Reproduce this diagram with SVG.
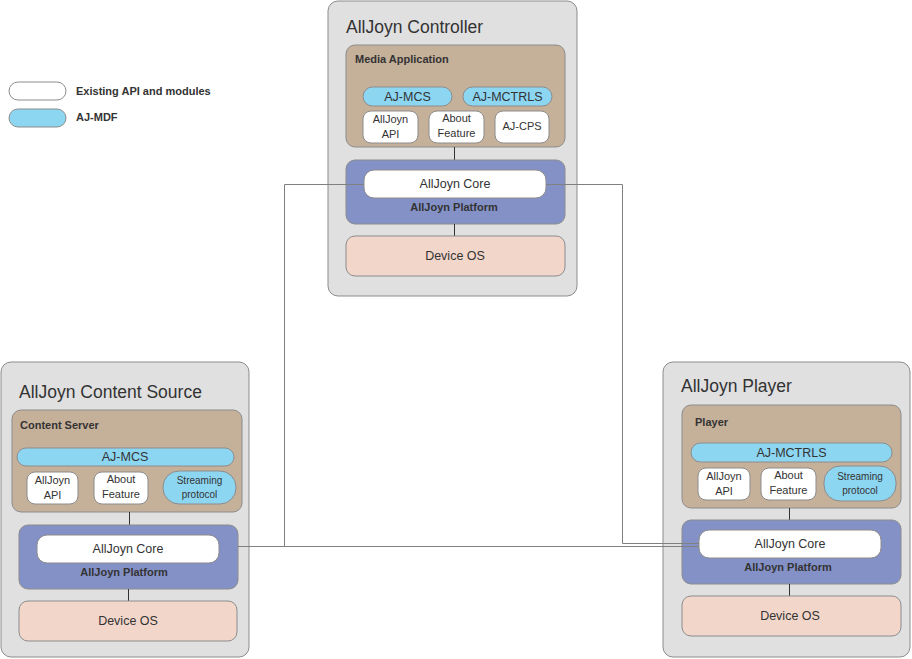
<svg xmlns="http://www.w3.org/2000/svg" width="912" height="659" viewBox="0 0 912 659">
<style>
text{font-family:"Liberation Sans",Arial,sans-serif;fill:#333}
.cont{fill:#e0e0e0;stroke:#8c8c8c;stroke-width:1}
.app{fill:#c5b09a;stroke:#8c8c8c;stroke-width:1}
.plat{fill:#8491c7;stroke:#8c8c8c;stroke-width:1}
.os{fill:#f2d6ca;stroke:#8c8c8c;stroke-width:1}
.wh{fill:#fff;stroke:#8c8c8c;stroke-width:1}
.bl{fill:#8dd6f2;stroke:#8c8c8c;stroke-width:1}
.title{font-size:17.5px}
.lbl{font-size:11px;font-weight:bold}
.t{font-size:12.5px;text-anchor:middle}
.s{font-size:11px;text-anchor:middle}
.pl{font-size:11px;font-weight:bold;text-anchor:middle}
.link{fill:none;stroke:#808080;stroke-width:1}
.v{stroke:#333;stroke-width:1}
</style>
<g id="legend">
<rect class="wh" x="9" y="82" width="57" height="18" rx="9"/>
<text class="lbl" x="76" y="95">Existing API and modules</text>
<rect class="bl" x="9" y="109" width="57" height="18" rx="9"/>
<text class="lbl" x="76" y="121">AJ-MDF</text>
</g>
<g id="controller">
<rect class="cont" x="328" y="1" width="249" height="295" rx="10"/>
<text class="title" x="346" y="33">AllJoyn Controller</text>
<rect class="app" x="346" y="45" width="219" height="102" rx="9"/>
<text class="lbl" x="355" y="63">Media Application</text>
<rect class="bl" x="363" y="87" width="89" height="19" rx="9.5"/>
<text class="t" x="407.5" y="101">AJ-MCS</text>
<rect class="bl" x="463" y="87" width="89" height="19" rx="9.5"/>
<text class="t" x="507.5" y="101">AJ-MCTRLS</text>
<rect class="wh" x="363" y="111" width="55" height="32" rx="8"/>
<text class="s" x="390.5" y="123">AllJoyn</text>
<text class="s" x="390.5" y="138">API</text>
<rect class="wh" x="429" y="111" width="55" height="32" rx="8"/>
<text class="s" x="456.5" y="122">About</text>
<text class="s" x="456.5" y="137">Feature</text>
<rect class="wh" x="495" y="111" width="54" height="32" rx="8"/>
<text class="s" x="522" y="130">AJ-CPS</text>
<line class="v" x1="454.5" y1="147" x2="454.5" y2="160"/>
<rect class="plat" x="346" y="160" width="219" height="64" rx="9"/>
<rect class="wh" x="364" y="170" width="182" height="28" rx="10"/>
<text class="t" x="455" y="188">AllJoyn Core</text>
<text class="pl" x="454" y="211">AllJoyn Platform</text>
<line class="v" x1="454.5" y1="224" x2="454.5" y2="236"/>
<rect class="os" x="346" y="236" width="219" height="40" rx="9"/>
<text class="t" x="455" y="260">Device OS</text>
</g>
<g id="content-source">
<rect class="cont" x="1" y="362" width="248" height="295" rx="10"/>
<text class="title" x="19" y="398">AllJoyn Content Source</text>
<rect class="app" x="12" y="410" width="230" height="102" rx="9"/>
<text class="lbl" x="20" y="429">Content Server</text>
<rect class="bl" x="17" y="448" width="217" height="18" rx="9"/>
<text class="t" x="125" y="461">AJ-MCS</text>
<rect class="wh" x="27" y="472" width="51" height="32" rx="8"/>
<text class="s" x="52.5" y="484">AllJoyn</text>
<text class="s" x="52.5" y="499">API</text>
<rect class="wh" x="94" y="472" width="54" height="32" rx="8"/>
<text class="s" x="121" y="483">About</text>
<text class="s" x="121" y="498">Feature</text>
<rect class="bl" x="163" y="471" width="73" height="33" rx="16"/>
<text class="s" x="199.5" y="484" style="font-size:10px">Streaming</text>
<text class="s" x="199.5" y="498" style="font-size:10px">protocol</text>
<line class="v" x1="129.5" y1="512" x2="129.5" y2="525"/>
<rect class="plat" x="19" y="525" width="219" height="64" rx="9"/>
<rect class="wh" x="37" y="535" width="182" height="28" rx="10"/>
<text class="t" x="128" y="553">AllJoyn Core</text>
<text class="pl" x="124" y="576">AllJoyn Platform</text>
<line class="v" x1="128.5" y1="589" x2="128.5" y2="601"/>
<rect class="os" x="19" y="601" width="218" height="40" rx="9"/>
<text class="t" x="128" y="625">Device OS</text>
</g>
<g id="player">
<rect class="cont" x="663" y="362" width="247" height="295" rx="10"/>
<text class="title" x="681" y="392">AllJoyn Player</text>
<rect class="app" x="682" y="405" width="219" height="103" rx="9"/>
<text class="lbl" x="695" y="426">Player</text>
<rect class="bl" x="691" y="443" width="201" height="19" rx="9.5"/>
<text class="t" x="791.5" y="457">AJ-MCTRLS</text>
<rect class="wh" x="698" y="468" width="52" height="32" rx="8"/>
<text class="s" x="724" y="480">AllJoyn</text>
<text class="s" x="724" y="495">API</text>
<rect class="wh" x="761" y="468" width="55" height="32" rx="8"/>
<text class="s" x="788.5" y="479">About</text>
<text class="s" x="788.5" y="494">Feature</text>
<rect class="bl" x="824" y="466" width="72" height="35" rx="16"/>
<text class="s" x="860" y="480" style="font-size:10px">Streaming</text>
<text class="s" x="860" y="494" style="font-size:10px">protocol</text>
<line class="v" x1="789.5" y1="508" x2="789.5" y2="520"/>
<rect class="plat" x="682" y="520" width="219" height="64" rx="9"/>
<rect class="wh" x="699" y="530" width="182" height="28" rx="10"/>
<text class="t" x="790" y="548">AllJoyn Core</text>
<text class="pl" x="788" y="571">AllJoyn Platform</text>
<line class="v" x1="789.5" y1="584" x2="789.5" y2="596"/>
<rect class="os" x="682" y="596" width="219" height="40" rx="9"/>
<text class="t" x="790" y="620">Device OS</text>
</g>
<g id="connectors">
<path class="link" d="M364,184.5 H284.5 V546.5"/>
<path class="link" d="M238,546.5 H699"/>
<path class="link" d="M546,184.5 H622.5 V543.5 H699"/>
</g>
</svg>
